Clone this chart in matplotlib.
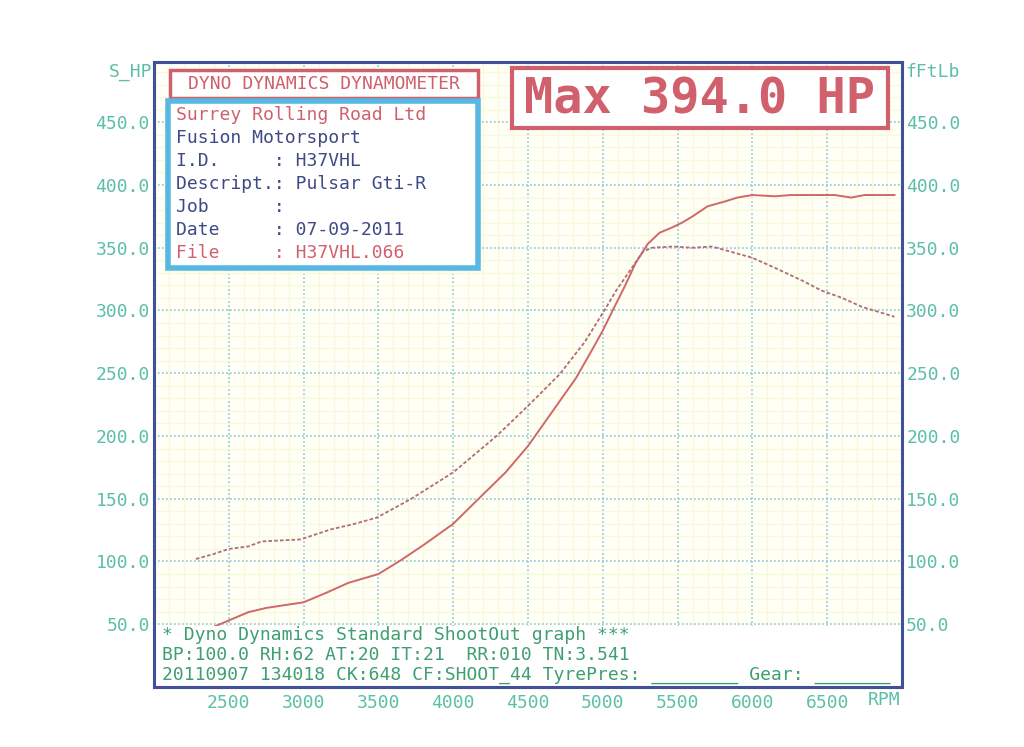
import matplotlib
matplotlib.use("Agg")
import matplotlib.pyplot as plt
from matplotlib.patches import Rectangle
from matplotlib.ticker import MultipleLocator

# Power curve (S_HP), solid line
power_rpm = [2380, 2500, 2630, 2750, 3000, 3150, 3300, 3500, 3650, 3800, 4000,
             4170, 4350, 4500, 4660, 4820, 4930, 5000, 5070, 5150, 5220, 5300,
             5380, 5470, 5530, 5600, 5700, 5820, 5900, 6000, 6150, 6260, 6400,
             6550, 6660, 6750, 6950]
power_hp = [47, 53, 59.6, 63, 67.5, 75, 83, 90, 101, 113, 130,
            150, 171, 192, 219, 246, 269, 284, 301, 320, 338, 353,
            362, 366.5, 370, 375, 383, 387, 390, 392, 391, 392, 392,
            392, 390, 392, 392]

# Torque curve (fFtLb), dotted line
torque_rpm = [2280, 2400, 2500, 2630, 2720, 2980, 3180, 3340, 3490, 3720, 4000,
              4290, 4500, 4710, 4880, 5000, 5090, 5200, 5270, 5330, 5470, 5600,
              5730, 5880, 6000, 6150, 6330, 6460, 6600, 6730, 6950]
torque_lbft = [102, 106, 110, 112, 116, 117.6, 125.5, 130, 135, 150, 171,
               200, 224, 249, 275, 298, 316, 335, 347, 350, 351, 350,
               351, 346, 342, 334, 324, 316, 310, 303, 295]

x_ticks = [2500, 3000, 3500, 4000, 4500, 5000, 5500, 6000, 6500]
y_ticks = [50, 100, 150, 200, 250, 300, 350, 400, 450]
max_hp = 394.0

info_lines = [
    ("Surrey Rolling Road Ltd", "red"),
    ("Fusion Motorsport", "navy"),
    ("I.D.     : H37VHL", "navy"),
    ("Descript.: Pulsar Gti-R", "navy"),
    ("Job      :", "navy"),
    ("Date     : 07-09-2011", "navy"),
    ("File     : H37VHL.066", "red"),
]
footer_lines = [
    "* Dyno Dynamics Standard ShootOut graph ***",
    "BP:100.0 RH:62 AT:20 IT:21  RR:010 TN:3.541",
    "20110907 134018 CK:648 CF:SHOOT_44 TyrePres: ________ Gear: _______",
]

W, H = 1024, 747
MONO = "DejaVu Sans Mono"
RED = "#d0606c"
NAVY = "#3e4a86"
TEAL = "#5cbfa8"
GREEN = "#3f9f70"
colors = {"red": RED, "navy": NAVY}


def fx(px):
    return px / W


def fy(py):
    return 1 - py / H


def fig_box(fig, x0, y0, x1, y1, edge, lw):
    fig.add_artist(Rectangle((fx(x0), fy(y1)), fx(x1) - fx(x0), fy(y0) - fy(y1),
                             transform=fig.transFigure, facecolor="white",
                             edgecolor=edge, linewidth=lw, zorder=4))


fig = plt.figure(figsize=(W / 100, H / 100), dpi=100)
ax = fig.add_axes([fx(154), fy(687), fx(902) - fx(154), fy(62) - fy(687)])
ax.set_facecolor("#fffff6")
ax.set_xlim(2000, 7000)
ax.set_ylim(0, 498)

# grid
ax.xaxis.set_minor_locator(MultipleLocator(100))
ax.yaxis.set_minor_locator(MultipleLocator(10))
ax.grid(which="minor", color="#f8f8dc", linewidth=1.0, linestyle="-")
ax.grid(which="major", color="#8cc6da", linewidth=1.2, linestyle=(0, (1, 1.4)))
ax.set_axisbelow(True)

ax.plot(power_rpm, power_hp, color="#d06868", linewidth=1.4, zorder=3)
ax.plot(torque_rpm, torque_lbft, color="#b06c78", linewidth=1.3,
        linestyle=(0, (2, 1.2)), zorder=3)

# footer panel over the bottom of the plot
ax.add_patch(Rectangle((0, 0), 1, 49 / 498, transform=ax.transAxes,
                       facecolor="white", edgecolor="none", zorder=4))

ax.set_xticks(x_ticks)
ax.set_xticklabels([str(v) for v in x_ticks])
ax.set_yticks(y_ticks)
ax.set_yticklabels([f"{v:.1f}" for v in y_ticks])
ax.tick_params(which="both", length=0)
ax.tick_params(axis="y", pad=3, labelright=True, labelsize=13, labelcolor=TEAL)
ax.tick_params(axis="x", pad=5, labelsize=13, labelcolor=TEAL)
for lab in ax.get_xticklabels() + ax.get_yticklabels():
    lab.set_family(MONO)

for sp in ax.spines.values():
    sp.set_color("#42509a")
    sp.set_linewidth(2.2)
    sp.set_linestyle((0, (1, 0.5)))
    sp.set_zorder(6)

fig.text(fx(152), fy(72), "S_HP", ha="right", va="center", family=MONO,
         fontsize=13, color=TEAL)
fig.text(fx(905), fy(72), "fFtLb", ha="left", va="center", family=MONO,
         fontsize=13, color=TEAL)
fig.text(fx(884), fy(700), "RPM", ha="center", va="center", family=MONO,
         fontsize=13, color=TEAL)

# header box
fig_box(fig, 170, 70, 478, 98, RED, 2.5)
fig.text(fx(324), fy(84), "DYNO DYNAMICS DYNAMOMETER", ha="center", va="center",
         family=MONO, fontsize=13, color=RED, zorder=5)

# info box
fig_box(fig, 168, 101, 478, 268, "#58b8e2", 4)
for i, (txt, c) in enumerate(info_lines):
    fig.text(fx(176), fy(115 + i * 23), txt, ha="left", va="center",
             family=MONO, fontsize=13, color=colors[c], zorder=5)

# max power box
fig_box(fig, 512, 68, 888, 128, RED, 3)
fig.text(fx(700), fy(99), f"Max {max_hp:.1f} HP", ha="center", va="center",
         family=MONO, fontsize=35, fontweight="bold", color=RED, zorder=5)

for i, txt in enumerate(footer_lines):
    fig.text(fx(162), fy(635 + i * 20), txt, ha="left", va="center",
             family=MONO, fontsize=13, color=GREEN, zorder=7)

fig.savefig("out.png", dpi=100, facecolor="white")
